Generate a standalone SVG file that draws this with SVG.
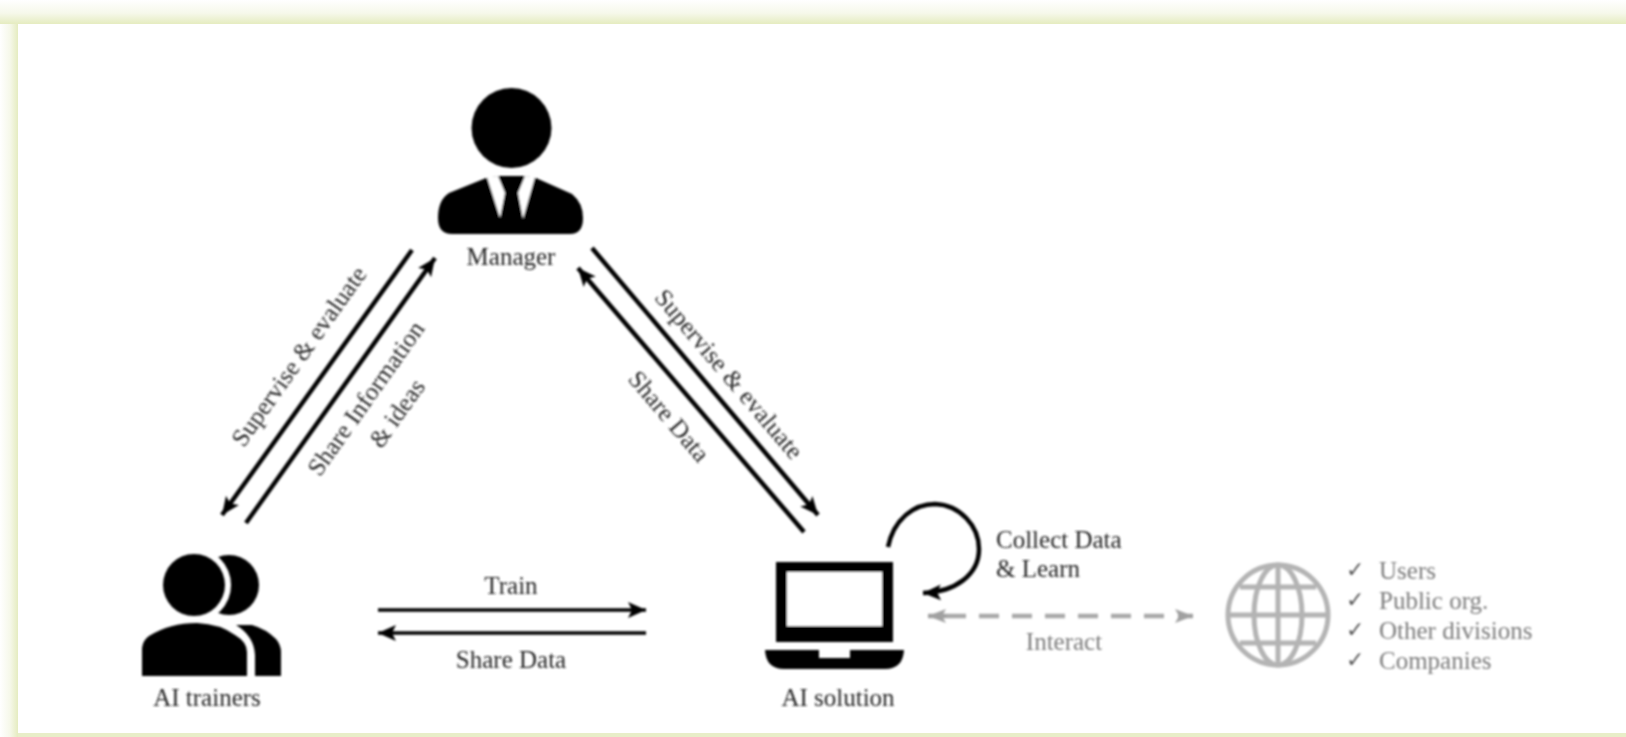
<svg xmlns="http://www.w3.org/2000/svg" width="1626" height="737" viewBox="0 0 1626 737">
<style>
text{font-family:"Liberation Serif","Times New Roman",serif;font-size:25px;fill:#262626}
.c{text-anchor:middle}
.g{fill:#7c7c7c}
.k{font-family:"DejaVu Sans",sans-serif;font-size:22px;fill:#555}
.l{fill:none;stroke:#000;stroke-width:4.500}
</style>
<defs>
<linearGradient id="tb" x1="0" y1="0" x2="0" y2="1"><stop offset="0" stop-color="#fff"/><stop offset="0.55" stop-color="#f6f8ea"/><stop offset="1" stop-color="#e5ecc0"/></linearGradient>
<linearGradient id="lb" x1="0" y1="0" x2="1" y2="0"><stop offset="0" stop-color="#fff"/><stop offset="0.55" stop-color="#f6f8ea"/><stop offset="1" stop-color="#e5ecc0"/></linearGradient>
<marker id="ah" markerUnits="userSpaceOnUse" markerWidth="20" markerHeight="18" refX="18" refY="9" orient="auto"><path d="M0 1L18 9L0 17L4 9Z" fill="#000"/></marker>
<marker id="gh" markerUnits="userSpaceOnUse" markerWidth="20" markerHeight="18" refX="18" refY="9" orient="auto"><path d="M0 2L18 9L0 16L4 9Z" fill="#a0a0a0"/></marker>
<filter id="b" x="-5%" y="-5%" width="110%" height="110%"><feGaussianBlur stdDeviation="0.9"/></filter>
<mask id="cres"><rect x="180" y="540" width="100" height="90" fill="#fff"/><circle cx="194" cy="585" r="37" fill="#000"/></mask>
</defs>
<rect width="1626" height="737" fill="#fff"/>
<g id="frame">
<rect x="0" y="0" width="1626" height="24" fill="url(#tb)"/>
<rect x="0" y="24" width="18" height="713" fill="url(#lb)"/>
<rect x="18" y="733" width="1608" height="4" fill="#e8eec8"/>
</g>
<g filter="url(#b)">
<g id="connectors">
<path class="l" d="M412 250L222 515" marker-end="url(#ah)"/>
<path class="l" d="M246 523L435 258" marker-end="url(#ah)"/>
<path class="l" d="M592 248L818 515" marker-end="url(#ah)"/>
<path class="l" d="M804 532L578 268" marker-end="url(#ah)"/>
<path class="l" style="stroke-width:3.500" d="M378 610H646" marker-end="url(#ah)"/>
<path class="l" style="stroke-width:3.500" d="M646 633H378" marker-end="url(#ah)"/>
<path class="l" d="M888 547C894 518 915 504 935 504C960 505 979 526 979 549C979 575 955 592 923 593" marker-end="url(#ah)"/>
<path d="M946 616H1175" fill="none" stroke="#a8a8a8" stroke-width="4.500" stroke-dasharray="20 13"/>
<path d="M946 616H928" fill="none" stroke="#a0a0a0" stroke-width="4.500" marker-end="url(#gh)"/>
<path d="M1178 616H1193" fill="none" stroke="#a0a0a0" stroke-width="4.500" marker-end="url(#gh)"/>
</g>
<g id="manager">
<circle cx="511.500" cy="128" r="40" fill="#000"/>
<path d="M486 178L449 193Q438 200 438 218Q438 234 452 234H570Q583 234 583 218Q583 203 572 194L536 178L525 176H498Z" fill="#000"/>
<path d="M487 177L498 176L505 193L500 218ZM535 177L525 176L518 193L523 219Z" fill="#fff"/>
<text class="c" x="511" y="265">Manager</text>
</g>
<g id="trainers">
<circle cx="194" cy="585" r="31" fill="#000"/>
<circle cx="229" cy="585" r="30" fill="#000" mask="url(#cres)"/>
<path d="M142 676V648Q143 640 149 636Q170 623 197 623Q220 624 235 635Q247 642 247 652V676Z" fill="#000"/>
<path d="M236 625H252Q266 629 276 639Q281 645 281 652V676H255V655Q254 636 236 625Z" fill="#000"/>
<text class="c" x="207" y="706">AI trainers</text>
</g>
<g id="solution">
<rect x="776" y="562" width="117" height="80" fill="#000"/>
<rect x="787" y="572" width="95" height="54" fill="#fff"/>
<path d="M765 650H819V658H850V650H904Q903 669 885 669H784Q766 669 765 650Z" fill="#000"/>
<text class="c" x="838" y="706">AI solution</text>
</g>
<g id="loop-label"><text x="996" y="548">Collect Data</text><text x="996" y="577">&amp; Learn</text></g>
<g id="edge-labels">
<text class="c" transform="translate(300 357) rotate(-54.600)" y="7">Supervise &amp; evaluate</text>
<text class="c" transform="translate(367 399) rotate(-54.600)" y="7">Share Information</text>
<text class="c" transform="translate(398 414) rotate(-54.600)" y="7">&amp; ideas</text>
<text class="c" transform="translate(728 375) rotate(49.700)" y="7">Supervise &amp; evaluate</text>
<text class="c" transform="translate(668 417) rotate(49.700)" y="7">Share Data</text>
<text class="c" x="511" y="594">Train</text>
<text class="c" x="511" y="668">Share Data</text>
<text class="c g" x="1064" y="650">Interact</text>
</g>
<g id="globe" fill="none" stroke="#b4b4b4" stroke-width="5">
<circle cx="1278" cy="615" r="50"/>
<ellipse cx="1278" cy="615" rx="24" ry="50"/>
<path d="M1278 565V665M1228 615H1328M1240 587H1316M1240 643H1316"/>
</g>
<g id="list">
<text class="k" x="1346" y="577">✓</text>
<text class="k" x="1346" y="607">✓</text>
<text class="k" x="1346" y="637">✓</text>
<text class="k" x="1346" y="667">✓</text>
<text class="g" x="1379" y="579">Users</text>
<text class="g" x="1379" y="609">Public org.</text>
<text class="g" x="1379" y="639">Other divisions</text>
<text class="g" x="1379" y="669">Companies</text>
</g>
</g>
</svg>
